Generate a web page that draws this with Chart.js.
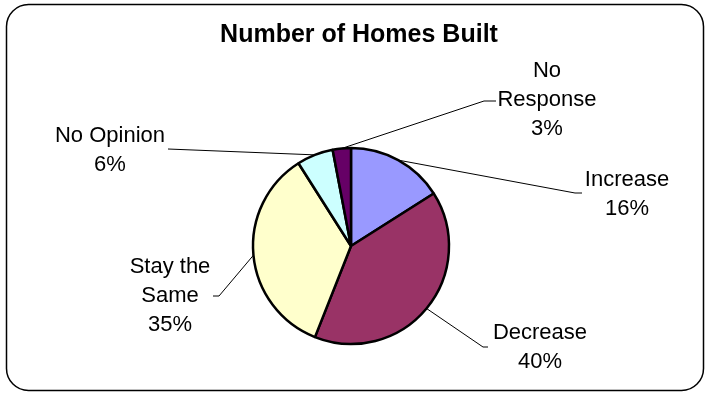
<!DOCTYPE html>
<html>
<head>
<meta charset="utf-8">
<script src="https://cdn.jsdelivr.net/npm/chart.js@4/dist/chart.umd.min.js"></script>
<style>
  html, body { margin: 0; padding: 0; background: #fff; }
  #wrap { width: 706px; height: 394px; position: relative; }
</style>
</head>
<body>
<div id="wrap"><canvas id="pieHomes"></canvas></div>
<script>
const chartTitle = "Number of Homes Built";
const categories = ["Increase", "Decrease", "Stay the\nSame", "No Opinion", "No\nResponse"];
const percents = [16, 40, 35, 6, 3];
const sliceColors = ["#9999FF", "#993366", "#FFFFCC", "#CCFFFF", "#660066"];

// label placement: centre x, first baseline, leader elbow and tip
const labelSpots = [
  { x: 627, y: 186, elbow: [575, 193], tip: [582, 193] },
  { x: 540, y: 339, elbow: [483, 347], tip: [488, 347] },
  { x: 170, y: 273, elbow: [219, 296], tip: [213, 296] },
  { x: 110, y: 142, elbow: [168, 149], tip: [168, 149] },
  { x: 547, y: 77,  elbow: [484, 101], tip: [496, 101] }
];
const labelFont = '22px "Liberation Sans", Arial, sans-serif';
const lineGap = 29;

const decorations = {
  id: 'decorations',
  beforeDraw(chart) {
    const c = chart.ctx;
    c.save();
    c.fillStyle = '#fff';
    c.fillRect(0, 0, chart.width, chart.height);
    // rounded frame
    c.beginPath();
    c.roundRect(6.5, 4.5, 697, 386, 22);
    c.strokeStyle = '#000';
    c.lineWidth = 1.5;
    c.stroke();
    // title
    c.fillStyle = '#000';
    c.font = 'bold 25px "Liberation Sans", Arial, sans-serif';
    c.textAlign = 'center';
    c.textBaseline = 'alphabetic';
    c.fillText(chartTitle, 359, 42);
    c.restore();
  },
  afterDatasetsDraw(chart) {
    const c = chart.ctx;
    const arcs = chart.getDatasetMeta(0).data;
    c.save();
    arcs.forEach((arc, i) => {
      const spot = labelSpots[i];
      const mid = (arc.startAngle + arc.endAngle) / 2;
      const sx = arc.x + Math.cos(mid) * arc.outerRadius;
      const sy = arc.y + Math.sin(mid) * arc.outerRadius;
      c.beginPath();
      c.moveTo(sx, sy);
      c.lineTo(spot.elbow[0], spot.elbow[1]);
      c.lineTo(spot.tip[0], spot.tip[1]);
      c.strokeStyle = '#000';
      c.lineWidth = 1;
      c.stroke();

      const lines = categories[i].split('\n').concat(percents[i] + '%');
      c.fillStyle = '#000';
      c.font = labelFont;
      c.textAlign = 'center';
      c.textBaseline = 'alphabetic';
      lines.forEach((t, k) => c.fillText(t, spot.x, spot.y + k * lineGap));
    });
    c.restore();
  }
};

const chart = new Chart(document.getElementById('pieHomes'), {
  type: 'pie',
  data: {
    labels: categories,
    datasets: [{
      data: percents,
      backgroundColor: sliceColors,
      borderColor: '#000',
      borderWidth: 2.5
    }]
  },
  options: {
    responsive: true,
    maintainAspectRatio: false,
    animation: false,
    events: [],
    radius: 98,
    layout: { padding: { left: 252, right: 256, top: 147, bottom: 49 } },
    plugins: {
      legend: { display: false },
      title: { display: false },
      tooltip: { enabled: false }
    }
  },
  plugins: [decorations]
});
</script>
</body>
</html>
